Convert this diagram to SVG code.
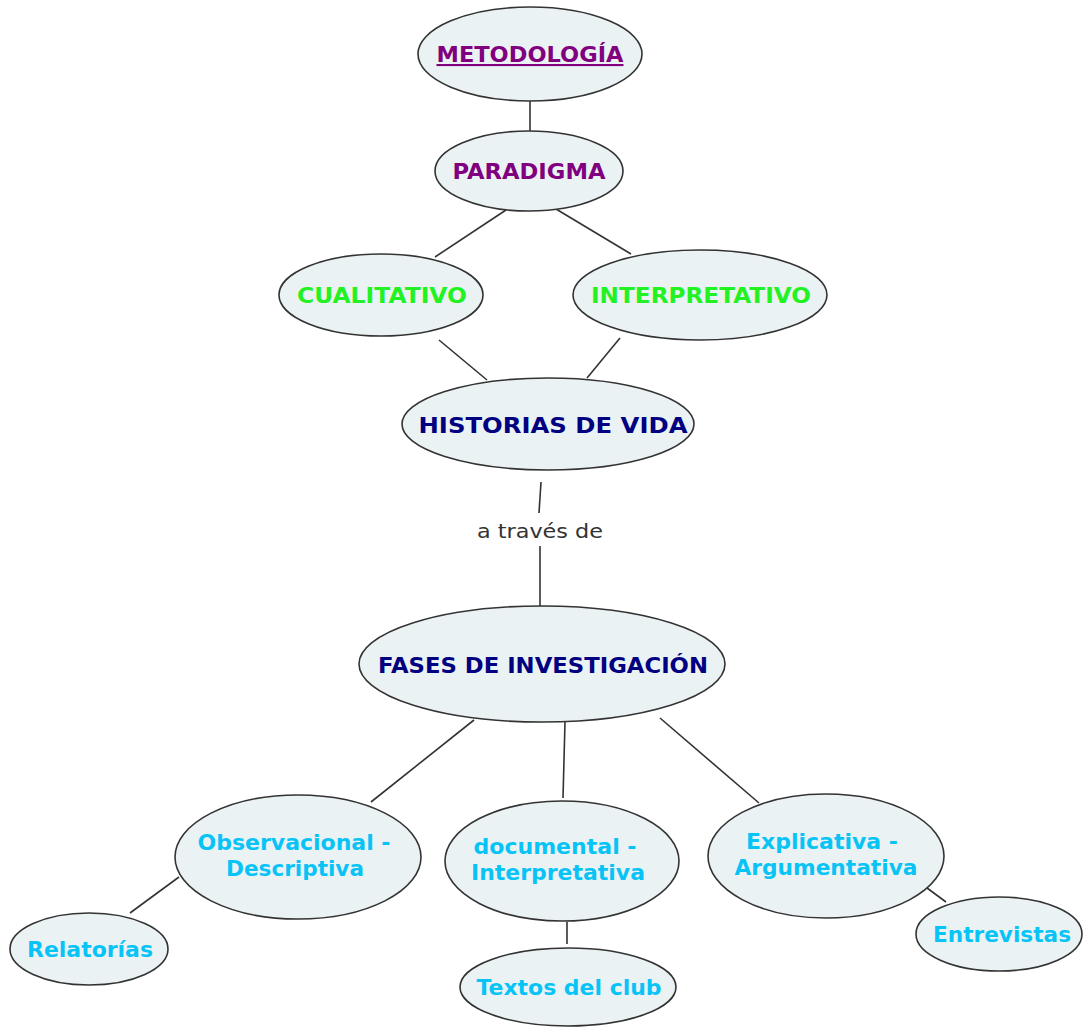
<svg xmlns="http://www.w3.org/2000/svg" width="1083" height="1027" viewBox="0 0 1083 1027">
<style>
.n{fill:#ebf2f4;stroke:#333;stroke-width:1.6}
.t{font-family:"DejaVu Sans",Verdana,sans-serif;font-weight:bold;font-size:21px;text-anchor:middle}
.p{fill:#800080}.g{fill:#22f222}.b{fill:#000080}.c{fill:#08c4f6}
.l{stroke:#333;stroke-width:1.6;fill:none}
</style>
<rect width="1083" height="1027" fill="#fff"/>
<g id="connectors">
<line class="l" x1="530" y1="101" x2="530" y2="131"/>
<line class="l" x1="506" y1="210" x2="435" y2="257"/>
<line class="l" x1="556" y1="209" x2="631" y2="254"/>
<line class="l" x1="439" y1="340" x2="487" y2="380"/>
<line class="l" x1="620" y1="338" x2="587" y2="378"/>
<line class="l" x1="541" y1="482" x2="539" y2="513"/>
<line class="l" x1="540" y1="546" x2="540" y2="606"/>
<line class="l" x1="474" y1="720" x2="371" y2="802"/>
<line class="l" x1="565" y1="722" x2="563" y2="798"/>
<line class="l" x1="660" y1="718" x2="759" y2="803"/>
<line class="l" x1="179" y1="877" x2="130" y2="913"/>
<line class="l" x1="567" y1="922" x2="567" y2="944"/>
<line class="l" x1="927" y1="888" x2="946" y2="902"/>
<text x="540" y="538" font-family="DejaVu Sans,Verdana,sans-serif" font-size="20" fill="#333" text-anchor="middle" textLength="126" lengthAdjust="spacingAndGlyphs">a través de</text>
</g>
<g id="metodologia">
<ellipse class="n" cx="530" cy="54" rx="112" ry="47"/>
<text class="t p" x="530" y="62" textLength="187" lengthAdjust="spacingAndGlyphs" text-decoration="underline">METODOLOGÍA</text>
</g>
<g id="paradigma">
<ellipse class="n" cx="529" cy="171" rx="94" ry="40"/>
<text class="t p" x="529" y="179" textLength="153" lengthAdjust="spacingAndGlyphs">PARADIGMA</text>
</g>
<g id="cualitativo">
<ellipse class="n" cx="381" cy="295" rx="102" ry="41"/>
<text class="t g" x="382" y="303" textLength="170" lengthAdjust="spacingAndGlyphs">CUALITATIVO</text>
</g>
<g id="interpretativo">
<ellipse class="n" cx="700" cy="295" rx="127" ry="45"/>
<text class="t g" x="701" y="303" textLength="220" lengthAdjust="spacingAndGlyphs">INTERPRETATIVO</text>
</g>
<g id="historias">
<ellipse class="n" cx="548" cy="424" rx="146" ry="46"/>
<text class="t b" x="553" y="433" textLength="269" lengthAdjust="spacingAndGlyphs">HISTORIAS DE VIDA</text>
</g>
<g id="fases">
<ellipse class="n" cx="542" cy="664" rx="183" ry="58"/>
<text class="t b" x="543" y="673" textLength="330" lengthAdjust="spacingAndGlyphs">FASES DE INVESTIGACIÓN</text>
</g>
<g id="observacional">
<ellipse class="n" cx="298" cy="857" rx="123" ry="62"/>
<text class="t c" x="294" y="850" textLength="193" lengthAdjust="spacingAndGlyphs">Observacional -</text>
<text class="t c" x="295" y="876" textLength="138" lengthAdjust="spacingAndGlyphs">Descriptiva</text>
</g>
<g id="documental">
<ellipse class="n" cx="562" cy="861" rx="117" ry="60"/>
<text class="t c" x="555" y="854" textLength="163" lengthAdjust="spacingAndGlyphs">documental -</text>
<text class="t c" x="558" y="880" textLength="174" lengthAdjust="spacingAndGlyphs">Interpretativa</text>
</g>
<g id="explicativa">
<ellipse class="n" cx="826" cy="856" rx="118" ry="62"/>
<text class="t c" x="822" y="849" textLength="152" lengthAdjust="spacingAndGlyphs">Explicativa -</text>
<text class="t c" x="826" y="875" textLength="183" lengthAdjust="spacingAndGlyphs">Argumentativa</text>
</g>
<g id="relatorias">
<ellipse class="n" cx="89" cy="949" rx="79" ry="36"/>
<text class="t c" x="90" y="957" textLength="126" lengthAdjust="spacingAndGlyphs">Relatorías</text>
</g>
<g id="textos">
<ellipse class="n" cx="568" cy="987" rx="108" ry="39"/>
<text class="t c" x="569" y="995" textLength="185" lengthAdjust="spacingAndGlyphs">Textos del club</text>
</g>
<g id="entrevistas">
<ellipse class="n" cx="999" cy="934" rx="83" ry="37"/>
<text class="t c" x="1002" y="942" textLength="138" lengthAdjust="spacingAndGlyphs">Entrevistas</text>
</g>
</svg>
